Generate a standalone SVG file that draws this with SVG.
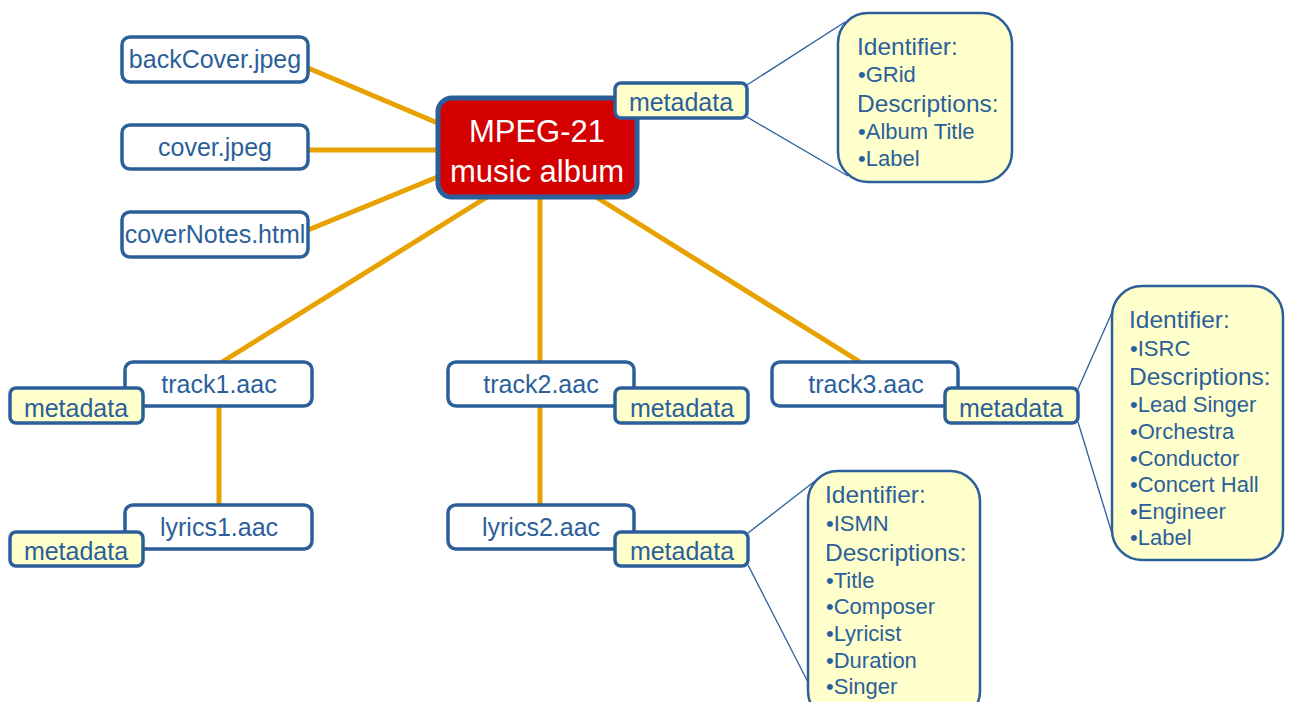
<svg xmlns="http://www.w3.org/2000/svg" width="1290" height="702" viewBox="0 0 1290 702">
<style>
.box{fill:#fff;stroke:#2b5f9a;stroke-width:3.5}
.tag{fill:#ffffcc;stroke:#2b5f9a;stroke-width:3.5}
.call{fill:#ffffcc;stroke:#2b5f9a;stroke-width:2.5}
.con{stroke:#e8a200;stroke-width:5;fill:none}
.lead{stroke:#2b5f9a;stroke-width:1.3;fill:none}
text{font-family:"Liberation Sans",Arial,sans-serif;fill:#2b5f9a}
.t{font-size:25px;text-anchor:middle}
.h{font-size:24.5px}
.b{font-size:22px}
</style>
<rect width="1290" height="702" fill="#fff"/>
<g id="connectors">
<line class="con" x1="308" y1="68" x2="440" y2="124"/>
<line class="con" x1="308" y1="150" x2="440" y2="150"/>
<line class="con" x1="308" y1="230" x2="440" y2="176"/>
<line class="con" x1="487" y1="197" x2="222" y2="362"/>
<line class="con" x1="540" y1="197" x2="540" y2="362"/>
<line class="con" x1="596" y1="197" x2="860" y2="362"/>
<line class="con" x1="219" y1="406" x2="219" y2="506"/>
<line class="con" x1="540" y1="406" x2="540" y2="506"/>
<line class="lead" x1="747" y1="85" x2="845" y2="22"/>
<line class="lead" x1="747" y1="117" x2="848" y2="176"/>
<line class="lead" x1="1078" y1="389" x2="1114" y2="308"/>
<line class="lead" x1="1078" y1="422" x2="1114" y2="540"/>
<line class="lead" x1="748" y1="533" x2="815" y2="481"/>
<line class="lead" x1="748" y1="565" x2="812" y2="690"/>
</g>
<g id="backCover"><rect class="box" x="122" y="37" width="186" height="45" rx="8"/><text class="t" x="215" y="68">backCover.jpeg</text></g>
<g id="cover"><rect class="box" x="122" y="125" width="186" height="44" rx="8"/><text class="t" x="215" y="156">cover.jpeg</text></g>
<g id="coverNotes"><rect class="box" x="122" y="212" width="186" height="45" rx="8"/><text class="t" x="215" y="243">coverNotes.html</text></g>
<g id="album">
<rect x="438" y="98" width="199" height="99" rx="14" fill="#d40000" stroke="#2b5f9a" stroke-width="5"/>
<text x="537" y="142" style="font-size:31px;text-anchor:middle;fill:#fff">MPEG-21</text>
<text x="537" y="182" style="font-size:31px;text-anchor:middle;fill:#fff">music album</text>
</g>
<g id="albumMeta"><rect class="tag" x="615" y="83" width="132" height="35" rx="6"/><text class="t" x="681" y="111">metadata</text></g>
<g id="albumCallout">
<rect class="call" x="838" y="13" width="174" height="169" rx="30"/>
<text class="h" x="857" y="55">Identifier:</text>
<text class="b" x="858" y="82">•GRid</text>
<text class="h" x="857" y="112">Descriptions:</text>
<text class="b" x="858" y="139">•Album Title</text>
<text class="b" x="858" y="166">•Label</text>
</g>
<g id="track1"><rect class="box" x="125" y="362" width="187" height="44" rx="8"/><text class="t" x="219" y="393">track1.aac</text></g>
<g id="track1Meta"><rect class="tag" x="10" y="388" width="133" height="35" rx="6"/><text class="t" x="76" y="417">metadata</text></g>
<g id="lyrics1"><rect class="box" x="125" y="505" width="187" height="44" rx="8"/><text class="t" x="219" y="536">lyrics1.aac</text></g>
<g id="lyrics1Meta"><rect class="tag" x="10" y="532" width="133" height="34" rx="6"/><text class="t" x="76" y="560">metadata</text></g>
<g id="track2"><rect class="box" x="448" y="362" width="186" height="44" rx="8"/><text class="t" x="541" y="393">track2.aac</text></g>
<g id="track2Meta"><rect class="tag" x="615" y="388" width="133" height="35" rx="6"/><text class="t" x="682" y="417">metadata</text></g>
<g id="lyrics2"><rect class="box" x="448" y="505" width="186" height="44" rx="8"/><text class="t" x="541" y="536">lyrics2.aac</text></g>
<g id="lyrics2Meta"><rect class="tag" x="615" y="532" width="133" height="34" rx="6"/><text class="t" x="682" y="560">metadata</text></g>
<g id="track3"><rect class="box" x="772" y="362" width="186" height="44" rx="8"/><text class="t" x="866" y="393">track3.aac</text></g>
<g id="track3Meta"><rect class="tag" x="945" y="388" width="133" height="35" rx="6"/><text class="t" x="1011" y="417">metadata</text></g>
<g id="track3Callout">
<rect class="call" x="1112" y="286" width="171" height="274" rx="30"/>
<text class="h" x="1129" y="328">Identifier:</text>
<text class="b" x="1130" y="356">•ISRC</text>
<text class="h" x="1129" y="385">Descriptions:</text>
<text class="b" x="1130" y="412">•Lead Singer</text>
<text class="b" x="1130" y="439">•Orchestra</text>
<text class="b" x="1130" y="466">•Conductor</text>
<text class="b" x="1130" y="492">•Concert Hall</text>
<text class="b" x="1130" y="519">•Engineer</text>
<text class="b" x="1130" y="545">•Label</text>
</g>
<g id="lyrics2Callout">
<rect class="call" x="808" y="471" width="172" height="250" rx="30"/>
<text class="h" x="825" y="503">Identifier:</text>
<text class="b" x="826" y="531">•ISMN</text>
<text class="h" x="825" y="561">Descriptions:</text>
<text class="b" x="826" y="588">•Title</text>
<text class="b" x="826" y="614">•Composer</text>
<text class="b" x="826" y="641">•Lyricist</text>
<text class="b" x="826" y="668">•Duration</text>
<text class="b" x="826" y="694">•Singer</text>
</g>
</svg>
